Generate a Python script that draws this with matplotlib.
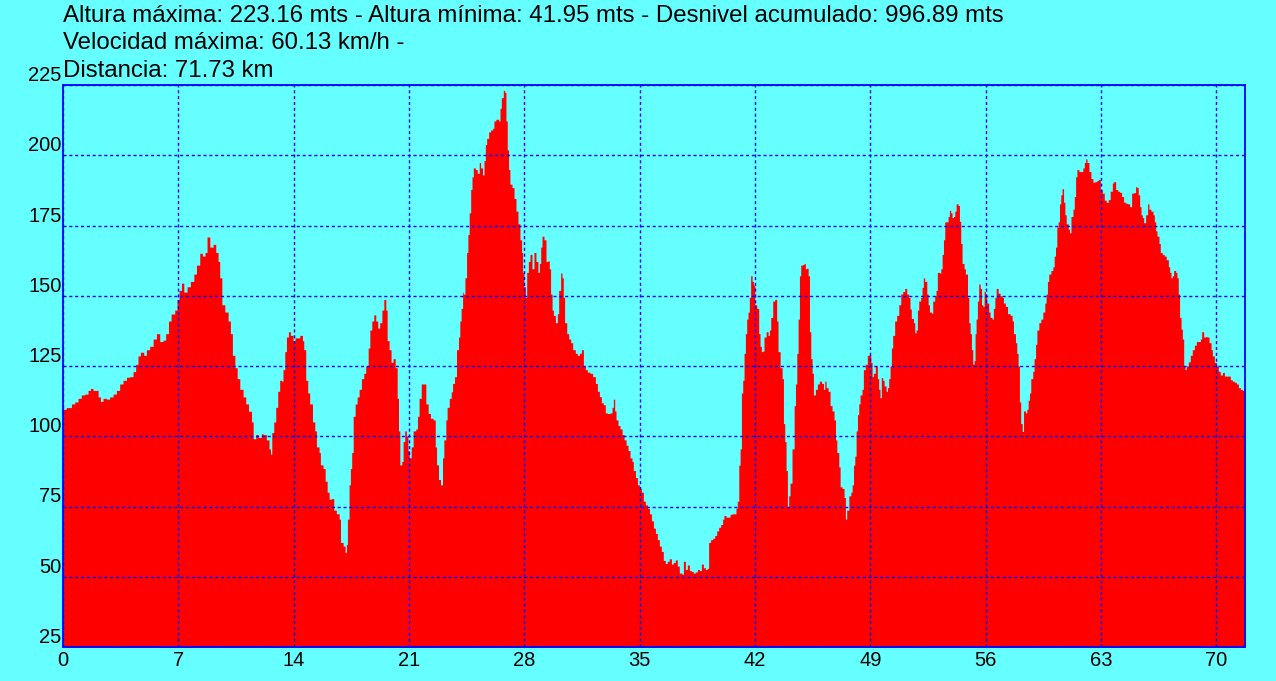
import matplotlib
matplotlib.use("Agg")
import matplotlib.pyplot as plt
import numpy as np

# elevation profile, km vs metres
km = [
    0.00, 0.20, 0.30, 0.51, 0.71, 0.91, 1.11, 1.32, 1.52, 1.66,
    1.82, 1.98, 2.13, 2.27, 2.43, 2.63, 2.83, 3.04, 3.24, 3.44,
    3.64, 3.85, 4.05, 4.25, 4.41, 4.55, 4.70, 4.90, 5.06, 5.26,
    5.47, 5.67, 5.87, 6.07, 6.23, 6.40, 6.56, 6.78, 6.92, 7.04,
    7.19, 7.33, 7.53, 7.73, 7.94, 8.10, 8.30, 8.46, 8.62, 8.74,
    8.91, 9.11, 9.27, 9.41, 9.51, 9.64, 9.82, 10.02, 10.16, 10.28,
    10.43, 10.57, 10.73, 10.93, 11.09, 11.26, 11.44, 11.54, 11.70, 11.84,
    12.04,
    12.14, 12.34, 12.50, 12.59, 12.67, 12.79, 12.91, 13.03, 13.15, 13.27,
    13.35, 13.46, 13.56, 13.68, 13.80, 13.96, 14.08, 14.27, 14.37, 14.53,
    14.61, 14.73, 14.85, 14.97, 15.14, 15.28, 15.38, 15.54, 15.62, 15.78,
    15.91, 16.03, 16.15, 16.29, 16.43, 16.59, 16.76, 16.84, 17.00, 17.12,
    17.20, 17.26, 17.36, 17.44, 17.52, 17.61, 17.73, 17.85, 17.97, 18.11,
    18.25, 18.37, 18.52, 18.62, 18.74, 18.86, 18.98, 19.10, 19.22, 19.35,
    19.47, 19.59, 19.67, 19.79, 19.91, 20.03, 20.16, 20.28, 20.36, 20.44,
    20.56, 20.64, 20.74, 20.84, 20.93, 21.01, 21.13, 21.25, 21.41, 21.51,
    21.61, 21.74, 21.94, 22.02, 22.16, 22.30, 22.46, 22.59, 22.67, 22.79,
    22.91, 23.03, 23.11, 23.23, 23.31, 23.44, 23.56, 23.64, 23.76, 23.88,
    24.00, 24.08, 24.16, 24.25,
    24.29, 24.39, 24.49, 24.57, 24.65, 24.74, 24.82, 24.90, 25.02, 25.14,
    25.26, 25.34, 25.46, 25.55, 25.63, 25.71, 25.83, 25.95, 26.07, 26.15,
    26.27, 26.44, 26.52, 26.60, 26.72, 26.80, 26.88, 26.96, 27.04, 27.12,
    27.25, 27.37, 27.49, 27.61, 27.73, 27.83, 27.89, 27.97, 28.06, 28.14,
    28.24, 28.34, 28.46, 28.58, 28.70, 28.82, 28.91, 28.99, 29.07, 29.19,
    29.31, 29.43, 29.51, 29.59, 29.68, 29.76, 29.88, 30.00, 30.08, 30.20,
    30.28, 30.36, 30.44, 30.57, 30.69, 30.81, 30.93, 31.09, 31.21, 31.34,
    31.46, 31.58, 31.70, 31.82, 31.98, 32.14, 32.31, 32.43, 32.55, 32.67,
    32.79, 32.91, 33.04, 33.20, 33.32, 33.40, 33.48, 33.56, 33.68, 33.80,
    33.93, 34.05, 34.17, 34.29, 34.41, 34.53, 34.61, 34.74, 34.86, 34.98,
    35.10, 35.22, 35.34, 35.46, 35.59, 35.71, 35.83, 35.95, 36.07, 36.19,
    36.31,
    36.43, 36.55, 36.67, 36.79, 36.92, 37.04, 37.16, 37.28, 37.40, 37.56,
    37.65, 37.77, 37.89, 38.01, 38.13, 38.25, 38.37, 38.50, 38.62, 38.74,
    38.86, 38.98, 39.10, 39.18, 39.30, 39.43, 39.55, 39.67, 39.79, 39.91,
    40.03, 40.11, 40.24, 40.36, 40.48, 40.60, 40.72, 40.84, 40.92, 41.01,
    41.09, 41.17, 41.25, 41.33, 41.41, 41.49, 41.57, 41.65, 41.73, 41.82,
    41.90, 41.98, 42.10, 42.22, 42.30, 42.38, 42.46, 42.54, 42.67, 42.79,
    42.87, 42.95, 43.07, 43.19, 43.31, 43.39, 43.52, 43.64, 43.72, 43.80,
    43.88, 43.96, 44.04, 44.12, 44.24, 44.37, 44.45, 44.53, 44.61, 44.69,
    44.77, 44.89, 44.97, 45.05, 45.13, 45.22, 45.30, 45.38, 45.46, 45.54,
    45.66, 45.78, 45.90, 46.03, 46.15, 46.23, 46.31, 46.43, 46.55, 46.67,
    46.79, 46.88, 46.96, 47.08, 47.16, 47.28, 47.40, 47.48, 47.56, 47.69,
    47.81, 47.89, 47.97, 48.05, 48.13, 48.21, 48.29, 48.37, 48.49,
    48.57, 48.69, 48.81, 48.93, 49.02, 49.10, 49.18, 49.30, 49.42, 49.50,
    49.58, 49.66, 49.74, 49.83, 49.95, 50.03, 50.11, 50.19, 50.27, 50.35,
    50.47, 50.59, 50.72, 50.84, 50.96, 51.08, 51.20, 51.32, 51.40, 51.48,
    51.61, 51.69, 51.77, 51.85, 51.93, 52.05, 52.13, 52.21, 52.29, 52.42,
    52.50, 52.58, 52.70, 52.78, 52.90, 52.98, 53.06, 53.19, 53.27, 53.35,
    53.43, 53.51, 53.63, 53.71, 53.79, 53.87, 53.95, 54.04, 54.12, 54.20,
    54.32, 54.40, 54.48, 54.56, 54.68, 54.76, 54.89, 54.97, 55.05, 55.13,
    55.21, 55.29, 55.35, 55.41, 55.49, 55.57, 55.66, 55.74, 55.82, 55.90,
    55.98, 56.06, 56.18, 56.26, 56.38, 56.46, 56.55, 56.63, 56.75, 56.87,
    56.99, 57.07, 57.19, 57.32, 57.48, 57.60, 57.68, 57.80, 57.88, 57.96,
    58.04, 58.12, 58.21, 58.29, 58.41, 58.49, 58.57, 58.65, 58.73, 58.85,
    58.93, 59.02, 59.10, 59.22, 59.34, 59.46, 59.58, 59.66, 59.74, 59.82,
    59.95, 60.07, 60.15, 60.23, 60.31, 60.39, 60.47, 60.55, 60.63,
    60.72, 60.80, 60.88, 61.00, 61.08, 61.17, 61.29, 61.37, 61.45, 61.53,
    61.65, 61.77, 61.89, 61.98, 62.06, 62.14, 62.26, 62.38, 62.50, 62.62,
    62.74, 62.83, 62.95, 63.07, 63.19, 63.31, 63.43, 63.55, 63.68, 63.76,
    63.88, 64.00, 64.12, 64.24, 64.36, 64.49, 64.61, 64.73, 64.85, 64.97,
    65.09, 65.17, 65.25, 65.34, 65.42, 65.50, 65.58, 65.70, 65.82, 65.90,
    66.02, 66.15, 66.23, 66.31, 66.39, 66.51, 66.59, 66.71, 66.83, 66.95,
    67.08, 67.16, 67.24, 67.32, 67.40, 67.52, 67.60, 67.68, 67.76, 67.85,
    67.93, 68.01, 68.09, 68.17, 68.29, 68.41, 68.53, 68.66, 68.78, 68.90,
    69.02, 69.10, 69.22, 69.34, 69.42, 69.55, 69.67, 69.75, 69.87, 69.99,
    70.11, 70.23, 70.36, 70.48, 70.60, 70.72, 70.84, 70.96, 71.08, 71.21,
    71.33, 71.45, 71.57, 71.69, 71.73,
]

altura = [
    109.6, 110.2, 110.2, 111.5, 112.2, 113.5, 114.7, 115.0, 116.3, 117.0,
    116.3, 116.3, 114.0, 112.4, 113.5, 113.2, 114.0, 115.0, 116.3, 118.6,
    119.9, 121.0, 121.2, 123.0, 125.6, 128.6, 129.9, 128.8, 130.8, 132.0,
    134.6, 136.5, 133.7, 134.2, 136.5, 141.0, 143.5, 144.9, 148.7, 151.9,
    154.5, 151.3, 153.2, 155.1, 157.7, 160.9, 165.1, 164.1, 165.4, 170.9,
    167.3, 168.3, 165.4, 162.2, 156.4, 146.8, 144.2, 141.0, 136.5, 128.8,
    124.4, 120.5, 116.7, 114.0, 111.5, 108.9, 105.1, 99.1, 100.6, 99.6,
    100.9,
    100.6, 98.7, 95.5, 93.6, 101.3, 105.1, 110.3, 116.0, 119.9, 119.6,
    123.7, 130.1, 135.3, 137.2, 135.9, 134.0, 135.0, 135.0, 135.9, 134.0,
    130.8, 119.9, 115.4, 111.5, 105.1, 101.9, 96.2, 94.2, 89.8, 88.5,
    84.0, 80.1, 77.6, 77.8, 73.7, 72.4, 70.5, 62.2, 60.9, 58.6,
    61.5, 70.5, 82.7, 88.5, 94.2, 107.1, 111.5, 114.0, 116.7, 120.5,
    122.4, 125.0, 131.4, 137.8, 141.0, 143.2, 141.0, 138.5, 140.4, 144.9,
    148.7, 144.9, 134.0, 130.8, 126.3, 127.6, 124.4, 113.5, 101.9, 89.8,
    91.0, 98.1, 101.9, 100.0, 94.9, 92.3, 96.2, 101.9, 102.6, 107.1,
    113.5, 118.6, 118.6, 111.5, 108.1, 106.4, 105.8, 96.2, 89.8, 84.6,
    82.7, 92.3, 98.7, 105.8, 110.3, 113.5, 115.8, 118.8, 121.2, 130.8,
    135.3, 141.0, 145.5, 151.3,
    150.6, 156.4, 165.4, 171.8, 179.5, 187.8, 192.3, 195.5, 194.9, 193.6,
    197.4, 195.5, 193.0, 198.1, 203.8, 206.0, 208.3, 209.0, 209.6, 212.2,
    212.8, 212.2, 216.7, 220.5, 223.1, 222.4, 212.2, 201.9, 194.9, 189.7,
    188.5, 184.6, 180.1, 175.6, 169.9, 165.4, 158.3, 153.2, 149.4, 158.3,
    162.2, 164.7, 159.6, 165.4, 162.2, 158.3, 161.5, 167.3, 171.2, 169.9,
    162.2, 162.4, 159.6, 150.6, 144.9, 143.0, 140.4, 143.6, 151.9, 158.1,
    156.4, 149.4, 140.4, 136.5, 134.6, 133.3, 130.8, 129.5, 128.8, 129.5,
    130.8, 125.0, 123.7, 122.8, 122.4, 121.2, 118.8, 116.0, 114.1, 111.9,
    111.2, 108.3, 108.1, 108.3, 110.3, 113.2, 109.0, 105.8, 103.8, 102.6,
    100.6, 98.7, 96.8, 94.9, 92.3, 91.0, 87.8, 85.3, 82.7, 81.4,
    80.1, 76.9, 75.6, 74.3, 72.4, 69.9, 67.3, 65.4, 63.2, 60.9,
    59.0,
    55.8, 54.7, 55.5, 56.4, 54.5, 55.1, 56.0, 53.8, 51.3, 50.9,
    55.5, 52.6, 54.2, 52.2, 51.9, 51.3, 51.7, 52.6, 52.2, 54.5,
    53.2, 52.6, 53.0, 62.2, 63.2, 63.7, 64.7, 66.3, 67.6, 68.6,
    70.5, 71.8, 71.2, 71.2, 72.2, 72.4, 72.4, 74.4, 76.9, 89.7,
    95.5, 115.4, 119.9, 129.5, 136.5, 141.7, 144.2, 149.4, 157.1, 155.1,
    153.8, 146.8, 145.5, 136.5, 132.0, 130.1, 130.3, 135.3, 137.2, 135.9,
    137.8, 142.3, 148.1, 148.7, 141.0, 130.1, 124.4, 120.5, 104.5, 98.1,
    87.8, 75.0, 78.8, 83.3, 95.5, 110.9, 118.6, 129.5, 141.7, 157.1,
    160.9, 161.1, 161.5, 159.6, 159.8, 157.1, 137.2, 127.6, 122.4, 114.7,
    116.7, 118.6, 119.6, 118.8, 116.7, 119.6, 117.3, 116.0, 110.9, 109.0,
    105.8, 98.7, 94.2, 89.1, 82.0, 81.4, 78.2, 70.5, 73.7, 78.8,
    80.1, 82.7, 89.7, 92.9, 101.9, 107.7, 111.5, 114.7, 116.7,
    123.7, 125.6, 128.8, 129.0, 126.3, 121.2, 122.4, 125.0, 120.5, 116.7,
    113.7, 120.9, 119.9, 117.9, 116.0, 117.3, 120.5, 125.0, 131.4, 135.9,
    141.0, 143.0, 146.8, 150.6, 151.5, 152.6, 150.6, 149.4, 145.3, 141.9,
    140.4, 136.8, 137.8, 144.9, 148.1, 149.4, 153.0, 156.4, 155.1, 150.6,
    146.8, 144.2, 143.8, 148.1, 150.0, 151.9, 158.3, 158.1, 159.6, 164.7,
    169.9, 176.3, 176.3, 178.2, 180.4, 179.5, 177.8, 178.2, 180.1, 182.7,
    182.1, 176.5, 168.6, 161.5, 159.6, 157.7, 149.4, 140.4, 136.5, 130.8,
    125.6, 126.9, 136.5, 141.7, 148.1, 154.2, 152.6, 146.8, 146.2, 151.5,
    150.6, 147.4, 144.2, 142.3, 141.7, 145.5, 149.4, 152.6, 150.9, 150.0,
    149.4, 147.4, 146.2, 143.6, 143.0, 141.0, 136.5, 133.3, 129.5, 125.0,
    112.2, 104.5, 101.7, 109.0, 108.3, 109.6, 112.8, 115.4, 120.5, 123.1,
    127.6, 132.7, 137.8, 140.4, 141.7, 144.2, 147.4, 150.6, 155.1, 157.7,
    159.0, 160.3, 164.1, 167.3, 174.4, 176.3, 182.7, 185.9, 188.1,
    183.3, 178.8, 175.6, 173.7, 172.4, 178.2, 180.8, 185.3, 192.3, 194.9,
    194.2, 194.2, 195.5, 197.4, 198.7, 197.4, 194.2, 191.7, 190.4, 190.6,
    191.0, 191.4, 187.8, 186.5, 184.0, 183.2, 184.2, 187.2, 190.1, 190.6,
    187.8, 187.2, 186.8, 185.3, 183.3, 182.9, 182.7, 181.7, 186.5, 186.7,
    188.8, 188.5, 185.9, 181.7, 178.8, 177.8, 176.0, 178.8, 182.7, 180.8,
    180.1, 178.8, 176.3, 173.1, 171.2, 168.6, 165.4, 164.7, 164.1, 162.8,
    160.3, 158.3, 156.4, 157.1, 159.0, 158.3, 156.4, 150.6, 142.3, 138.1,
    134.6, 125.0, 123.7, 125.0, 126.5, 128.8, 130.8, 132.4, 133.7, 133.7,
    134.6, 137.2, 135.3, 135.5, 135.3, 133.3, 130.8, 128.6, 126.3, 125.0,
    123.1, 121.8, 122.7, 121.4, 121.4, 121.4, 120.1, 119.6, 119.2, 118.6,
    117.3, 116.7, 116.3, 116.7, 116.7,
]

x_ticks = [0, 7, 14, 21, 28, 35, 42, 49, 56, 63, 70]
y_ticks = [25, 50, 75, 100, 125, 150, 175, 200, 225]

header = [
    "Altura máxima: 223.16 mts - Altura mínima: 41.95 mts - Desnivel acumulado: 996.89 mts",
    "Velocidad máxima: 60.13 km/h -",
    "Distancia: 71.73 km",
]

fondo = "#66ffff"
azul = "#0000ff"

plt.rcParams['font.family'] = ['Liberation Sans', 'DejaVu Sans']

fig = plt.figure(figsize=(12.76, 6.81), dpi=100, facecolor=fondo)
ax = fig.add_axes([63 / 1276, 34 / 681, 1182 / 1276, 562 / 681])
ax.set_facecolor(fondo)

ax.fill_between(km, altura, 25, step="post", color="#ff0000", linewidth=0)

ax.set_xlim(0, 71.73)
ax.set_ylim(25, 225)
ax.set_xticks(x_ticks)
ax.set_yticks(y_ticks)
ax.tick_params(length=0, labelsize=14.5, colors="black")
ax.tick_params(axis="x", pad=3)
ax.tick_params(axis="y", pad=1)
for lbl in ax.get_yticklabels():
    lbl.set_verticalalignment("bottom")

ax.set_axisbelow(False)
ax.grid(True, color=azul, linestyle=(0, (2.2, 2.0)), linewidth=1.0)
for s in ax.spines.values():
    s.set_color(azul)
    s.set_linewidth(1.3)

ys = [1 - 22 / 681, 1 - 49 / 681, 1 - 77 / 681]
for txt, yy in zip(header, ys):
    fig.text(63 / 1276, yy, txt, fontsize=17.3, va="baseline", ha="left")

fig.savefig("out.png", dpi=100, facecolor=fondo)
